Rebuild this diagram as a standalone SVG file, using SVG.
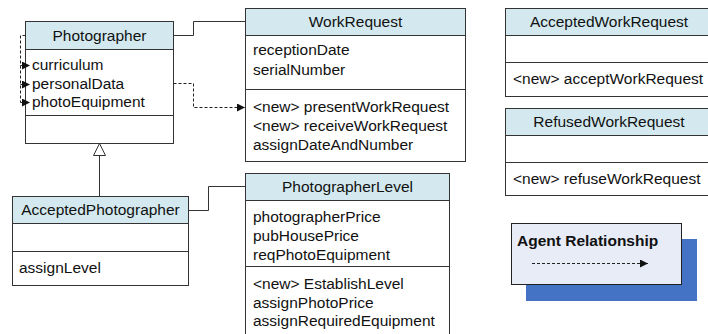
<svg xmlns="http://www.w3.org/2000/svg" width="708" height="334" viewBox="0 0 708 334">
  <style>
    .box { fill: #ffffff; stroke: #333333; stroke-width: 1; }
    .head { fill: #d3e9ef; stroke: #333333; stroke-width: 1; }
    .div { stroke: #333333; stroke-width: 1; }
    .t { font-family: "Liberation Sans", Arial, sans-serif; font-size: 15.5px; fill: #111111; }
    .c { text-anchor: middle; }
    .b { font-weight: bold; }
    .link { fill: none; stroke: #333333; stroke-width: 1; }
    .dash { fill: none; stroke: #222222; stroke-width: 1; stroke-dasharray: 3 2; }
  </style>
  <defs>
    <marker id="arrow" viewBox="0 0 10 10" refX="10" refY="5" markerWidth="8" markerHeight="8" markerUnits="userSpaceOnUse" orient="auto">
      <path d="M0,0 L10,5 L0,10 z" fill="#111111"/>
    </marker>
  </defs>

  <rect width="708" height="334" fill="#ffffff"/>

  <!-- Photographer -->
  <g id="photographer">
    <rect class="box" x="25.5" y="21.5" width="148" height="122"/>
    <rect class="head" x="25.5" y="21.5" width="148" height="28"/>
    <line class="div" x1="25.5" y1="115.5" x2="173.5" y2="115.5"/>
    <text class="t c" x="99.5" y="41">Photographer</text>
    <text class="t" x="32" y="70">curriculum</text>
    <text class="t" x="32" y="89">personalData</text>
    <text class="t" x="32" y="107">photoEquipment</text>
  </g>

  <!-- WorkRequest -->
  <g id="work-request">
    <rect class="box" x="245.5" y="8.5" width="220" height="153"/>
    <rect class="head" x="245.5" y="8.5" width="220" height="27"/>
    <line class="div" x1="245.5" y1="89.5" x2="465.5" y2="89.5"/>
    <text class="t c" x="355.5" y="27">WorkRequest</text>
    <text class="t" x="253" y="55">receptionDate</text>
    <text class="t" x="253" y="75">serialNumber</text>
    <text class="t" x="253" y="112">&lt;new&gt; presentWorkRequest</text>
    <text class="t" x="253" y="131">&lt;new&gt; receiveWorkRequest</text>
    <text class="t" x="253" y="150">assignDateAndNumber</text>
  </g>

  <!-- AcceptedWorkRequest -->
  <g id="accepted-work-request">
    <rect class="box" x="505.5" y="8.5" width="210" height="88"/>
    <rect class="head" x="505.5" y="8.5" width="210" height="27"/>
    <line class="div" x1="505.5" y1="62.5" x2="715.5" y2="62.5"/>
    <text class="t c" x="609" y="27">AcceptedWorkRequest</text>
    <text class="t" x="513" y="84">&lt;new&gt; acceptWorkRequest</text>
  </g>

  <!-- RefusedWorkRequest -->
  <g id="refused-work-request">
    <rect class="box" x="505.5" y="108.5" width="210" height="87"/>
    <rect class="head" x="505.5" y="108.5" width="210" height="27"/>
    <line class="div" x1="505.5" y1="162.5" x2="715.5" y2="162.5"/>
    <text class="t c" x="609" y="127">RefusedWorkRequest</text>
    <text class="t" x="513" y="184">&lt;new&gt; refuseWorkRequest</text>
  </g>

  <!-- AcceptedPhotographer -->
  <g id="accepted-photographer">
    <rect class="box" x="12.5" y="196.5" width="176" height="89"/>
    <rect class="head" x="12.5" y="196.5" width="176" height="27"/>
    <line class="div" x1="12.5" y1="251.5" x2="188.5" y2="251.5"/>
    <text class="t c" x="100.5" y="215">AcceptedPhotographer</text>
    <text class="t" x="19" y="273">assignLevel</text>
  </g>

  <!-- PhotographerLevel -->
  <g id="photographer-level">
    <rect class="box" x="245.5" y="173.5" width="204" height="170"/>
    <rect class="head" x="245.5" y="173.5" width="204" height="27"/>
    <line class="div" x1="245.5" y1="266.5" x2="449.5" y2="266.5"/>
    <text class="t c" x="347.5" y="192">PhotographerLevel</text>
    <text class="t" x="253" y="222">photographerPrice</text>
    <text class="t" x="253" y="241">pubHousePrice</text>
    <text class="t" x="253" y="260">reqPhotoEquipment</text>
    <text class="t" x="253" y="289">&lt;new&gt; EstablishLevel</text>
    <text class="t" x="253" y="308">assignPhotoPrice</text>
    <text class="t" x="253" y="326">assignRequiredEquipment</text>
  </g>

  <!-- Legend -->
  <g id="legend">
    <rect x="526" y="239" width="171" height="62" fill="#4472c4"/>
    <rect x="511.5" y="223.5" width="170" height="61" fill="#e7ecf7" stroke="#222222" stroke-width="1"/>
    <text class="t b" x="517" y="246">Agent Relationship</text>
    <line class="dash" x1="532" y1="263.5" x2="648" y2="263.5" marker-end="url(#arrow)"/>
  </g>

  <!-- Connectors -->
  <g id="connectors">
    <!-- Photographer - WorkRequest association -->
    <polyline class="link" points="173.5,35.5 193.5,35.5 193.5,21.5 245.5,21.5"/>
    <!-- AcceptedPhotographer - PhotographerLevel association -->
    <polyline class="link" points="188.5,210.5 208.5,210.5 208.5,186.5 245.5,186.5"/>
    <!-- generalisation AcceptedPhotographer -> Photographer -->
    <line class="link" x1="99.5" y1="196.5" x2="99.5" y2="155.5"/>
    <path d="M99.5,143.5 L105.5,155.5 L93.5,155.5 z" fill="#ffffff" stroke="#333333" stroke-width="1"/>
    <!-- agent relationship personalData -> presentWorkRequest -->
    <polyline class="dash" points="173.5,83.5 193.5,83.5 193.5,107.5 245,107.5" marker-end="url(#arrow)"/>
    <!-- agent relationships Photographer -> own attributes -->
    <polyline class="dash" points="25.5,35.5 20.5,35.5 20.5,102.5"/>
    <line class="dash" x1="20.5" y1="65.5" x2="30" y2="65.5" marker-end="url(#arrow)"/>
    <line class="dash" x1="20.5" y1="84.5" x2="30" y2="84.5" marker-end="url(#arrow)"/>
    <line class="dash" x1="20.5" y1="102.5" x2="30" y2="102.5" marker-end="url(#arrow)"/>
  </g>
</svg>
